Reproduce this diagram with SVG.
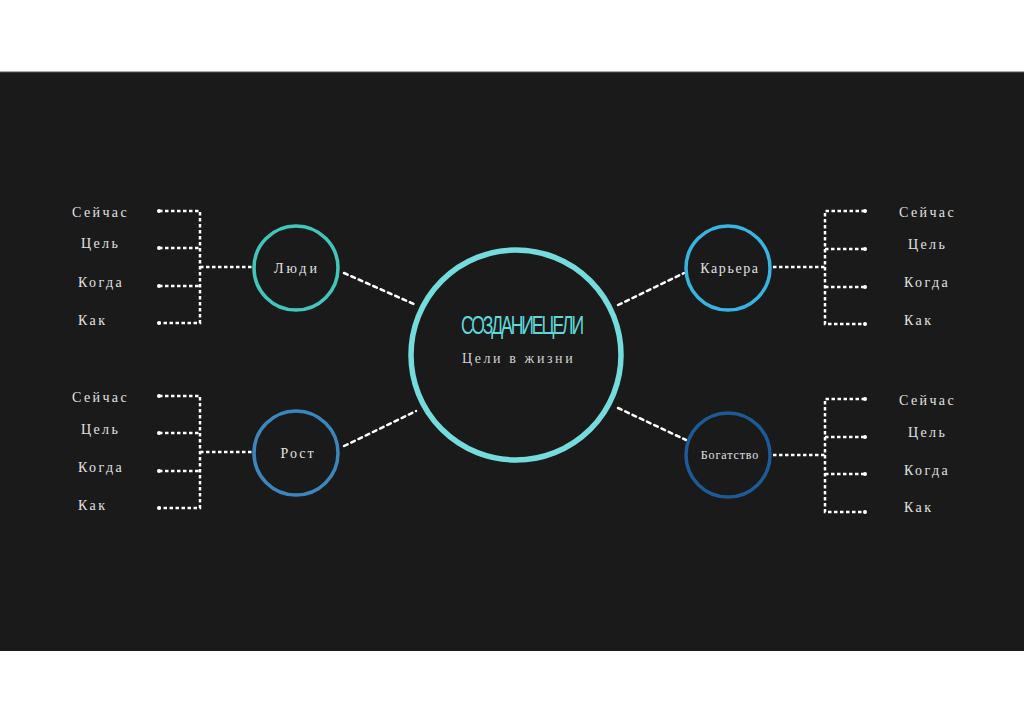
<svg xmlns="http://www.w3.org/2000/svg" width="1024" height="723" viewBox="0 0 1024 723">
<defs>
<style>
.lbl{font-family:"Liberation Serif","DejaVu Serif",serif;font-size:14px;fill:#e2e2e2;letter-spacing:2.4px}
.nl{font-family:"Liberation Serif","DejaVu Serif",serif;font-size:14px;fill:#e2e2e2;letter-spacing:2px;text-anchor:middle}
.dl{fill:none;stroke:#ffffff;stroke-width:2.5;stroke-dasharray:3.5 2.5}
.dh{fill:none;stroke:#ffffff;stroke-width:2.5;stroke-dasharray:4 4;stroke-linecap:round}
.dot{fill:#ffffff}
.ring{fill:#1a1a1a;stroke-width:3.5}
</style>
</defs>
<rect x="0" y="0" width="1024" height="723" fill="#ffffff"/>
<rect x="0" y="72" width="1024" height="579" fill="#1a1a1a"/>
<line x1="0" y1="72" x2="1024" y2="72" stroke="#555" stroke-width="1"/>

<g id="connectors">
  <!-- hub links -->
  <line class="dh" x1="344" y1="273" x2="416" y2="305"/>
  <line class="dh" x1="344" y1="446" x2="416" y2="411"/>
  <line class="dh" x1="618" y1="305" x2="684" y2="273"/>
  <line class="dh" x1="618" y1="408" x2="686" y2="440"/>
  <!-- left top bracket -->
  <g>
    <path class="dl" d="M159 211H200V323H159M159 248H200M159 286H200M200 267H252"/>
    <circle class="dot" cx="159" cy="211" r="2"/><circle class="dot" cx="159" cy="248" r="2"/>
    <circle class="dot" cx="159" cy="286" r="2"/><circle class="dot" cx="159" cy="323" r="2"/>
  </g>
  <!-- left bottom bracket -->
  <g>
    <path class="dl" d="M159 396H200V508H159M159 433H200M159 471H200M200 452H252"/>
    <circle class="dot" cx="159" cy="396" r="2"/><circle class="dot" cx="159" cy="433" r="2"/>
    <circle class="dot" cx="159" cy="471" r="2"/><circle class="dot" cx="159" cy="508" r="2"/>
  </g>
  <!-- right top bracket -->
  <g>
    <path class="dl" d="M865 211H825V324H865M825 249H865M825 287H865M773 267H825"/>
    <circle class="dot" cx="865" cy="211" r="2"/><circle class="dot" cx="865" cy="249" r="2"/>
    <circle class="dot" cx="865" cy="287" r="2"/><circle class="dot" cx="865" cy="324" r="2"/>
  </g>
  <!-- right bottom bracket -->
  <g>
    <path class="dl" d="M865 399H825V512H865M825 437H865M825 474H865M773 455H825"/>
    <circle class="dot" cx="865" cy="399" r="2"/><circle class="dot" cx="865" cy="437" r="2"/>
    <circle class="dot" cx="865" cy="474" r="2"/><circle class="dot" cx="865" cy="512" r="2"/>
  </g>
</g>

<g id="hub">
  <circle cx="516" cy="355" r="105" fill="#1a1a1a" stroke="#74dcdc" stroke-width="5.5"/>
  <text x="461" y="334" textLength="121" lengthAdjust="spacingAndGlyphs" font-family="Liberation Sans,Arial,sans-serif" font-size="25" fill="#5fd8d8" letter-spacing="-3">СОЗДАНИЕЦЕЛИ</text>
  <text x="462" y="363" font-family="Liberation Serif,DejaVu Serif,serif" font-size="14" fill="#d4d4d4" letter-spacing="2.6">Цели в жизни</text>
</g>

<g id="node-people">
  <circle class="ring" cx="296" cy="268" r="42" stroke="#42c6bc"/>
  <text class="nl" x="297" y="273" style="letter-spacing:3px">Люди</text>
</g>
<g id="node-growth">
  <circle class="ring" cx="296" cy="453" r="42" stroke="#3b87bd"/>
  <text class="nl" x="298" y="458">Рост</text>
</g>
<g id="node-career">
  <circle class="ring" cx="728" cy="268" r="42" stroke="#37b4e2"/>
  <text class="nl" x="730" y="273" style="letter-spacing:1.6px">Карьера</text>
</g>
<g id="node-wealth">
  <circle class="ring" cx="728" cy="455" r="42" stroke="#1d5a97"/>
  <text class="nl" x="730" y="459" style="font-size:12px;letter-spacing:0.9px">Богатство</text>
</g>

<g id="labels-left-top">
  <text class="lbl" x="72" y="217">Сейчас</text>
  <text class="lbl" x="81" y="248">Цель</text>
  <text class="lbl" x="78" y="287">Когда</text>
  <text class="lbl" x="78" y="325">Как</text>
</g>
<g id="labels-left-bottom">
  <text class="lbl" x="72" y="402">Сейчас</text>
  <text class="lbl" x="81" y="434">Цель</text>
  <text class="lbl" x="78" y="472">Когда</text>
  <text class="lbl" x="78" y="510">Как</text>
</g>
<g id="labels-right-top">
  <text class="lbl" x="899" y="217">Сейчас</text>
  <text class="lbl" x="908" y="249">Цель</text>
  <text class="lbl" x="904" y="287">Когда</text>
  <text class="lbl" x="904" y="325">Как</text>
</g>
<g id="labels-right-bottom">
  <text class="lbl" x="899" y="405">Сейчас</text>
  <text class="lbl" x="908" y="437">Цель</text>
  <text class="lbl" x="904" y="475">Когда</text>
  <text class="lbl" x="904" y="512">Как</text>
</g>
</svg>
